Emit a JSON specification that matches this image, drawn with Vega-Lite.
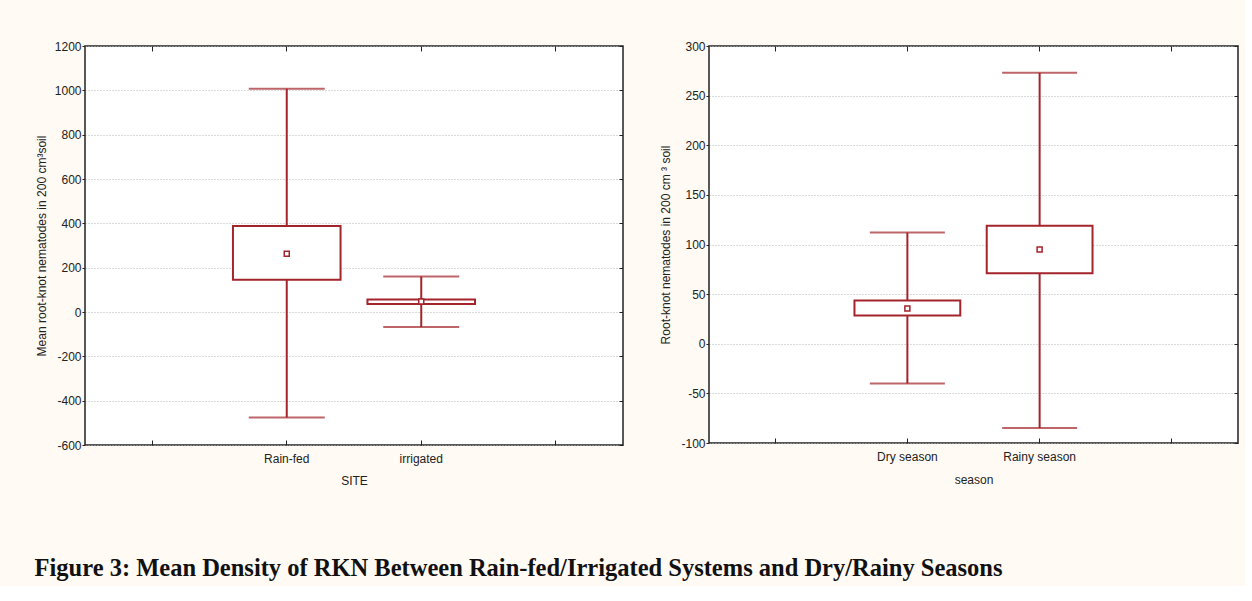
{
  "$schema": "https://vega.github.io/schema/vega-lite/v6.json",
  "background": "#fffaf3",
  "padding": {"left": 34, "top": 39, "right": 5, "bottom": 5},
  "config": {
    "view": {"stroke": "#222", "strokeWidth": 1.5, "fill": "white"},
    "axis": {"labelFont": "Liberation Sans", "labelFontSize": 12, "labelColor": "#222", "titleFont": "Liberation Sans", "titleFontSize": 12, "titleFontWeight": "normal", "titleColor": "#222", "domain": false, "tickColor": "#222"}
  },
  "title": {"text": "Figure 3: Mean Density of RKN Between Rain-fed/Irrigated Systems and Dry/Rainy Seasons", "orient": "bottom", "anchor": "start", "font": "Liberation Serif", "fontSize": 24.5, "fontWeight": "bold", "color": "#111", "offset": 70},
  "hconcat": [
    {
      "width": 538, "height": 399,
      "data": {"values": [
        {"site": "Rain-fed", "low": -476, "q1": 145, "mean": 263, "q3": 388, "high": 1007},
        {"site": "irrigated", "low": -68, "q1": 36, "mean": 47, "q3": 56, "high": 160}
      ]},
      "layer": [
        {"mark": {"type": "rule", "color": "#a3242b", "strokeWidth": 2},
         "encoding": {
           "x": {"field": "site", "type": "nominal", "sort": null, "scale": {"domain": [" ", "Rain-fed", "irrigated", "  "], "paddingInner": 0, "paddingOuter": 0}, "axis": {"orient": "bottom", "title": "SITE", "labelAngle": 0, "tickSize": -5, "labelPadding": 13, "titlePadding": 11, "grid": false}},
           "y": {"field": "low", "type": "quantitative", "scale": {"domain": [-600, 1200], "nice": false, "zero": false}, "axis": {"orient": "left", "title": "Mean root-knot nematodes in 200 cm³soil", "values": [-600, -400, -200, 0, 200, 400, 600, 800, 1000, 1200], "labelExpr": "'' + datum.value", "tickSize": 3, "labelPadding": 1, "titlePadding": 6, "grid": true, "gridDash": [1, 2], "gridColor": "#b5b5b5"}},
           "y2": {"field": "high"}
         }},
        {"mark": {"type": "bar", "fill": "white", "stroke": "#a3242b", "strokeWidth": 2, "width": {"band": 0.8}},
         "encoding": {
           "x": {"field": "site", "type": "nominal", "sort": null, "scale": {"domain": [" ", "Rain-fed", "irrigated", "  "], "paddingInner": 0, "paddingOuter": 0}, "axis": {"orient": "top", "title": null, "labels": false, "tickSize": -5, "grid": false}},
           "y": {"field": "q1", "type": "quantitative", "scale": {"domain": [-600, 1200], "nice": false, "zero": false}, "axis": {"orient": "right", "title": null, "labels": false, "values": [-600, -400, -200, 0, 200, 400, 600, 800, 1000, 1200], "tickSize": -4, "grid": false}},
           "y2": {"field": "q3"}
         }},
        {"mark": {"type": "tick", "color": "#a3242b", "thickness": 2, "size": 76},
         "encoding": {
           "x": {"field": "site", "type": "nominal", "sort": null, "scale": {"domain": [" ", "Rain-fed", "irrigated", "  "], "paddingInner": 0, "paddingOuter": 0}, "axis": null},
           "y": {"field": "low", "type": "quantitative", "scale": {"domain": [-600, 1200], "nice": false, "zero": false}, "axis": null}
         }},
        {"mark": {"type": "tick", "color": "#a3242b", "thickness": 2, "size": 76},
         "encoding": {
           "x": {"field": "site", "type": "nominal", "sort": null, "scale": {"domain": [" ", "Rain-fed", "irrigated", "  "], "paddingInner": 0, "paddingOuter": 0}, "axis": null},
           "y": {"field": "high", "type": "quantitative", "scale": {"domain": [-600, 1200], "nice": false, "zero": false}, "axis": null}
         }},
        {"mark": {"type": "point", "shape": "square", "size": 25, "filled": true, "fill": "white", "stroke": "#a3242b", "strokeWidth": 1.5, "opacity": 1},
         "encoding": {
           "x": {"field": "site", "type": "nominal", "sort": null, "scale": {"domain": [" ", "Rain-fed", "irrigated", "  "], "paddingInner": 0, "paddingOuter": 0}, "axis": null},
           "y": {"field": "mean", "type": "quantitative", "scale": {"domain": [-600, 1200], "nice": false, "zero": false}, "axis": null}
         }}
      ],
      "resolve": {"axis": {"x": "independent", "y": "independent"}}
    },
    {
      "width": 529, "height": 397,
      "data": {"values": [
        {"season": "Dry season", "low": -40, "q1": 28.5, "mean": 35.5, "q3": 43.5, "high": 112},
        {"season": "Rainy season", "low": -85, "q1": 71, "mean": 95, "q3": 119, "high": 273}
      ]},
      "layer": [
        {"mark": {"type": "rule", "color": "#a3242b", "strokeWidth": 2},
         "encoding": {
           "x": {"field": "season", "type": "nominal", "sort": null, "scale": {"domain": [" ", "Dry season", "Rainy season", "  "], "paddingInner": 0, "paddingOuter": 0}, "axis": {"orient": "bottom", "title": "season", "labelAngle": 0, "tickSize": -5, "labelPadding": 13, "titlePadding": 12, "grid": false}},
           "y": {"field": "low", "type": "quantitative", "scale": {"domain": [-100, 300], "nice": false, "zero": false}, "axis": {"orient": "left", "title": "Root-knot nematodes in 200 cm ³ soil", "values": [-100, -50, 0, 50, 100, 150, 200, 250, 300], "labelExpr": "'' + datum.value", "tickSize": 3, "labelPadding": 1, "titlePadding": 8, "grid": true, "gridDash": [1, 2], "gridColor": "#b5b5b5"}},
           "y2": {"field": "high"}
         }},
        {"mark": {"type": "bar", "fill": "white", "stroke": "#a3242b", "strokeWidth": 2, "width": {"band": 0.8}},
         "encoding": {
           "x": {"field": "season", "type": "nominal", "sort": null, "scale": {"domain": [" ", "Dry season", "Rainy season", "  "], "paddingInner": 0, "paddingOuter": 0}, "axis": {"orient": "top", "title": null, "labels": false, "tickSize": -5, "grid": false}},
           "y": {"field": "q1", "type": "quantitative", "scale": {"domain": [-100, 300], "nice": false, "zero": false}, "axis": {"orient": "right", "title": null, "labels": false, "values": [-100, -50, 0, 50, 100, 150, 200, 250, 300], "tickSize": -4, "grid": false}},
           "y2": {"field": "q3"}
         }},
        {"mark": {"type": "tick", "color": "#a3242b", "thickness": 2, "size": 75},
         "encoding": {
           "x": {"field": "season", "type": "nominal", "sort": null, "scale": {"domain": [" ", "Dry season", "Rainy season", "  "], "paddingInner": 0, "paddingOuter": 0}, "axis": null},
           "y": {"field": "low", "type": "quantitative", "scale": {"domain": [-100, 300], "nice": false, "zero": false}, "axis": null}
         }},
        {"mark": {"type": "tick", "color": "#a3242b", "thickness": 2, "size": 75},
         "encoding": {
           "x": {"field": "season", "type": "nominal", "sort": null, "scale": {"domain": [" ", "Dry season", "Rainy season", "  "], "paddingInner": 0, "paddingOuter": 0}, "axis": null},
           "y": {"field": "high", "type": "quantitative", "scale": {"domain": [-100, 300], "nice": false, "zero": false}, "axis": null}
         }},
        {"mark": {"type": "point", "shape": "square", "size": 25, "filled": true, "fill": "white", "stroke": "#a3242b", "strokeWidth": 1.5, "opacity": 1},
         "encoding": {
           "x": {"field": "season", "type": "nominal", "sort": null, "scale": {"domain": [" ", "Dry season", "Rainy season", "  "], "paddingInner": 0, "paddingOuter": 0}, "axis": null},
           "y": {"field": "mean", "type": "quantitative", "scale": {"domain": [-100, 300], "nice": false, "zero": false}, "axis": null}
         }}
      ],
      "resolve": {"axis": {"x": "independent", "y": "independent"}}
    }
  ],
  "spacing": 34
}
